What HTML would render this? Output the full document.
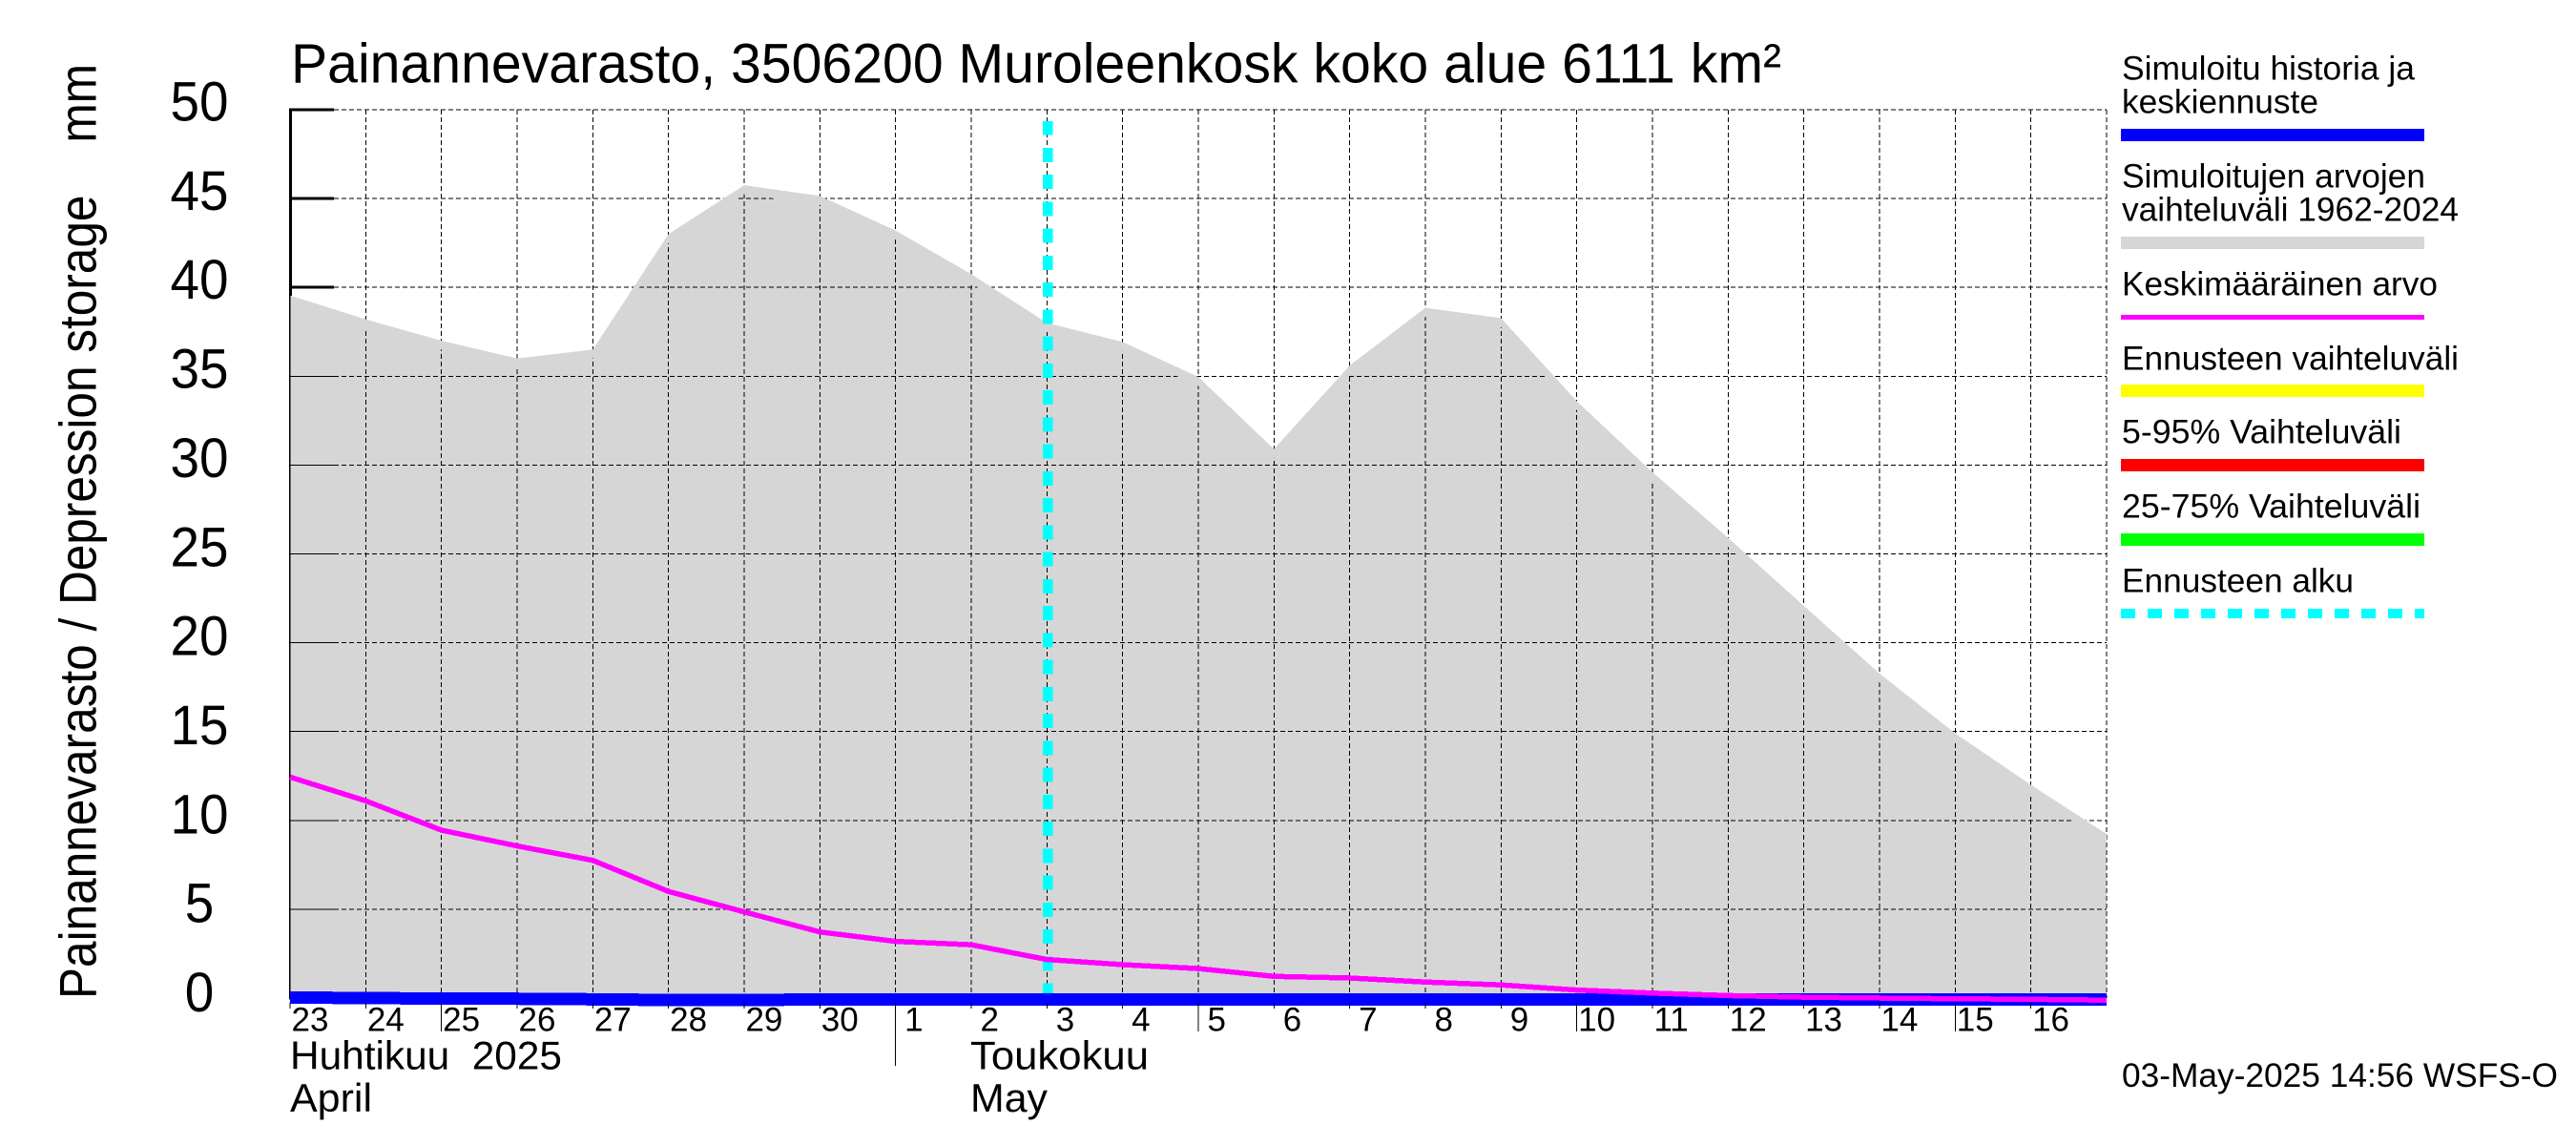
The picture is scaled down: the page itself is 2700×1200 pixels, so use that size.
<!DOCTYPE html>
<html lang="fi">
<head>
<meta charset="utf-8">
<title>Painannevarasto, 3506200 Muroleenkosk koko alue 6111 km²</title>
<style>
html,body{margin:0;padding:0;background:#fff;width:2700px;height:1200px;overflow:hidden}
svg{display:block}
text{font-family:"Liberation Sans",sans-serif;fill:#000;white-space:pre}
</style>
</head>
<body>
<svg id="chart" xmlns="http://www.w3.org/2000/svg" width="2700" height="1200" viewBox="0 0 2700 1200">
  <rect x="0" y="0" width="2700" height="1200" fill="#fff"/>
  <g id="plot"></g>

  <text x="305" y="86.7" font-size="58" textLength="1562" lengthAdjust="spacingAndGlyphs">Painannevarasto, 3506200 Muroleenkosk koko alue 6111 km²</text>
  <text transform="translate(100.5,1047) rotate(-90)" x="0" y="0" font-size="55" textLength="980" lengthAdjust="spacingAndGlyphs" xml:space="preserve">Painannevarasto / Depression storage    mm</text>

  <text x="304" y="1120.7" font-size="42" textLength="285" lengthAdjust="spacingAndGlyphs" xml:space="preserve">Huhtikuu  2025</text>
  <text x="304" y="1165" font-size="42" textLength="86" lengthAdjust="spacingAndGlyphs">April</text>
  <text x="1017" y="1120.7" font-size="42" textLength="187" lengthAdjust="spacingAndGlyphs">Toukokuu</text>
  <text x="1017" y="1165" font-size="42" textLength="81" lengthAdjust="spacingAndGlyphs">May</text>
  <text x="2224" y="1139" font-size="35" textLength="457" lengthAdjust="spacingAndGlyphs">03-May-2025 14:56 WSFS-O</text>

  <g>
    <text x="2224" y="83.3" font-size="35" textLength="307" lengthAdjust="spacingAndGlyphs">Simuloitu historia ja</text>
    <text x="2224" y="118.3" font-size="35" textLength="206" lengthAdjust="spacingAndGlyphs">keskiennuste</text>
    <rect x="2223" y="135" width="318" height="13" fill="#0000ff"/>

    <text x="2224" y="196.7" font-size="35" textLength="318" lengthAdjust="spacingAndGlyphs">Simuloitujen arvojen</text>
    <text x="2224" y="231.7" font-size="35" textLength="353" lengthAdjust="spacingAndGlyphs">vaihteluväli 1962-2024</text>
    <rect x="2223" y="248" width="318" height="13" fill="#d6d6d6"/>

    <text x="2224" y="309.3" font-size="35" textLength="331" lengthAdjust="spacingAndGlyphs">Keskimääräinen arvo</text>
    <rect x="2223" y="330" width="318" height="5" fill="#ff00ff"/>

    <text x="2224" y="387.7" font-size="35" textLength="353" lengthAdjust="spacingAndGlyphs">Ennusteen vaihteluväli</text>
    <rect x="2223" y="403" width="318" height="13" fill="#ffff00"/>

    <text x="2224" y="464.3" font-size="35" textLength="293" lengthAdjust="spacingAndGlyphs">5-95% Vaihteluväli</text>
    <rect x="2223" y="481" width="318" height="13" fill="#ff0000"/>

    <text x="2224" y="542.3" font-size="35" textLength="313" lengthAdjust="spacingAndGlyphs">25-75% Vaihteluväli</text>
    <rect x="2223" y="559" width="318" height="13" fill="#00ff00"/>

    <text x="2224" y="620.7" font-size="35" textLength="243" lengthAdjust="spacingAndGlyphs">Ennusteen alku</text>
    <line x1="2223" y1="643" x2="2541" y2="643" stroke="#00ffff" stroke-width="10" stroke-dasharray="15 13" shape-rendering="crispEdges"/>
  </g>
</svg>
<script>
// Chart data
const dayLabels = ["23","24","25","26","27","28","29","30","1","2","3","4","5","6","7","8","9","10","11","12","13","14","15","16"];
const rangeUpper = [39.55,38.2,37.0,36.0,36.5,43.0,45.75,45.15,43.2,40.75,38.0,36.93,34.96,30.9,35.6,38.85,38.27,33.6,29.6,25.9,22.08,18.27,14.9,12.0,9.24];
const meanValues = [12.44,11.1,9.45,8.56,7.75,6.0,4.85,3.72,3.19,3.0,2.17,1.88,1.66,1.22,1.13,0.9,0.74,0.45,0.28,0.14,0.05,0.0,-0.04,-0.07,-0.12];
const simulatedValues = [0.03,0.0,-0.03,-0.04,-0.07,-0.11,-0.11,-0.08,-0.07,-0.07,-0.07,-0.07,-0.07,-0.07,-0.07,-0.07,-0.07,-0.07,-0.07,-0.07,-0.07,-0.07,-0.07,-0.07,-0.07];
const yTickLabels = [0,5,10,15,20,25,30,35,40,45,50];
const longTickDays = ["25","5","10","15"];
const monthBoundaryDays = ["1"];
const forecastStartDay = [10];

const SVG_NS = 'http://www.w3.org/2000/svg';
const plot = document.getElementById('plot');
const xLeft = 304, dayWidth = 79.33, yZero = 1046, unitHeight = 18.62;
function xScale(i){ return xLeft + i * dayWidth; }
function yScale(v){ return yZero - v * unitHeight; }
const xRight = xScale(dayLabels.length);
const yTop = yScale(50);

function make(tag, props, parent){
  const el = document.createElementNS(SVG_NS, tag);
  for (const k in props) el.setAttribute(k, props[k]);
  (parent || plot).appendChild(el);
  return el;
}
function pointString(values, dy){
  return values.map(function(v, i){ return xScale(i).toFixed(2) + ',' + (yScale(v) + dy).toFixed(2); }).join(' ');
}
function bandPoints(dy){
  return xScale(0) + ',' + (yScale(0) + 20) + ' ' + pointString(rangeUpper, dy) + ' ' + xScale(rangeUpper.length-1) + ',' + (yScale(0) + 20);
}
function drawGrid(parent, suffix){
  yTickLabels.forEach(function(v){
    const g = make('line', {x1:xLeft+46, y1:yScale(v), x2:xRight, y2:yScale(v), stroke:'#000', 'stroke-width':1, 'stroke-dasharray':'5 3', 'shape-rendering':'crispEdges'}, parent);
    
    
  });
  for (let i = 1; i <= dayLabels.length; i++) {
    const g = make('line', {x1:xScale(i), y1:yTop, x2:xScale(i), y2:yZero, stroke:'#000', 'stroke-width':1, 'stroke-dasharray':'5 3', 'shape-rendering':'crispEdges'}, parent);
    
    
  }
}

// Clip for the part of the grid printed over the grey band
const defs = make('defs', {});


const clip = make('clipPath', {id:'band-clip'}, defs);


const clipShape = make('polygon', {points:bandPoints(9.5)}, clip);



// Thick axis and ticks beneath the grey band
const axisLine = make('line', {x1:xLeft+0.5, y1:yTop-1.5, x2:xLeft+0.5, y2:yZero+1, stroke:'#000', 'stroke-width':3, 'shape-rendering':'crispEdges'});


yTickLabels.forEach(function(v){
  const t = make('line', {x1:xLeft-1, y1:yScale(v), x2:xLeft+46, y2:yScale(v), stroke:'#000', 'stroke-width':3, 'shape-rendering':'crispEdges'});
  
  
});

// Grid on white
const gridUnder = make('g', {});


drawGrid(gridUnder, '-under');

// Simulated range band
const band = make('polygon', {
  points: xScale(0) + ',' + yScale(0) + ' ' + pointString(rangeUpper, 0) + ' ' + xScale(rangeUpper.length-1) + ',' + yScale(0),
  fill:'#d6d6d6', 'shape-rendering':'crispEdges'
});



// Grid over the band
const gridOver = make('g', {'clip-path':'url(#band-clip)'});


drawGrid(gridOver, '-over');

yTickLabels.forEach(function(v){
  if (yScale(v) < yScale(rangeUpper[0])) return;
  const thin = make('line', {x1:xLeft, y1:yScale(v), x2:xLeft+46, y2:yScale(v), stroke:'#000', 'stroke-width':1, 'shape-rendering':'crispEdges'});
  
  
});
const leftInner = make('line', {x1:xLeft, y1:yTop, x2:xLeft, y2:yZero, stroke:'#000', 'stroke-width':1, 'shape-rendering':'crispEdges'});



// Forecast start marker
const fc = make('line', {x1:xScale(forecastStartDay[0])+1, y1:yZero, x2:xScale(forecastStartDay[0])+1, y2:127, stroke:'#00ffff', 'stroke-width':10.5, 'stroke-dasharray':'15 13.25', 'stroke-dashoffset':'-0.5', 'shape-rendering':'crispEdges'});



// Series
const simLine = make('polyline', {points:pointString(simulatedValues, 0), fill:'none', stroke:'#0000ff', 'stroke-width':13, 'shape-rendering':'crispEdges'});


const meanLine = make('polyline', {points:pointString(meanValues, 0), fill:'none', stroke:'#ff00ff', 'stroke-width':5.5, 'stroke-linejoin':'round', 'shape-rendering':'crispEdges'});



// X ticks and labels
dayLabels.forEach(function(label, i){
  let bottom = yZero + 11;
  if (longTickDays.indexOf(label) >= 0) bottom = 1081;
  if (monthBoundaryDays.indexOf(label) >= 0) bottom = 1117;
  const t = make('line', {x1:xScale(i), y1:yZero+5, x2:xScale(i), y2:bottom, stroke:'#000', 'stroke-width':1, 'shape-rendering':'crispEdges'});
  
  
  const txt = make('text', {x:xScale(i) + (label.length === 1 ? 9.5 : 1.5), y:1080.7, 'font-size':35});
  txt.textContent = label;
  
  
});

// Y tick labels
yTickLabels.forEach(function(v){
  const s = String(v);
  const baseline = yScale(50) + 11.5 + (50 - v) * 18.67;
  const txt = make('text', {x:209, y:baseline.toFixed(1), 'font-size':58, 'text-anchor':'middle', textLength:s.length*30.5, lengthAdjust:'spacingAndGlyphs'});
  txt.textContent = s;
  
  
});
</script>
</body>
</html>
